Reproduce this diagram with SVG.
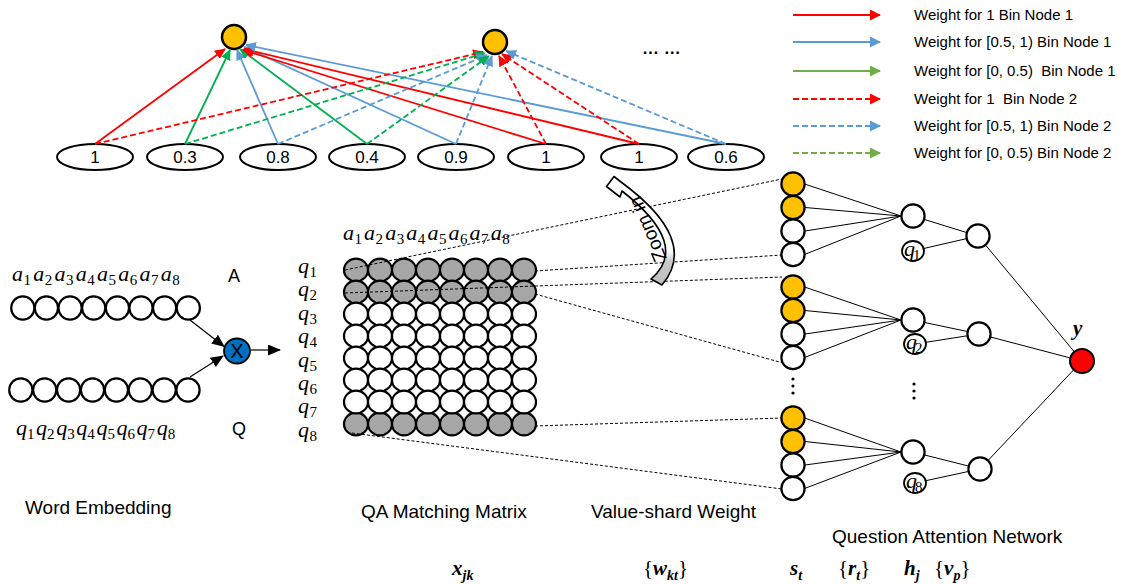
<svg xmlns="http://www.w3.org/2000/svg" width="1133" height="584" viewBox="0 0 1133 584">
<defs>
<style>
text{font-family:"Liberation Sans",Arial,sans-serif;fill:#000}
.t17{font-size:17px}
.lgt{font-size:15px;white-space:pre}
.cap{font-size:19px}
.m{font-family:"Liberation Serif","DejaVu Serif",serif;font-style:italic;font-size:22px}
.ms{font-style:normal;font-size:15px}
.mb{font-family:"Liberation Serif","DejaVu Serif",serif;font-style:italic;font-weight:bold;font-size:21px}
.up{font-style:normal;font-weight:normal}
.sb{font-size:14px}
.ell{fill:#fff;stroke:#000;stroke-width:2}
.cir{fill:#fff;stroke:#000;stroke-width:2.2}
.gray{fill:#A6A6A6}
.yel{fill:#FFC000}
.ln{fill:none;stroke-width:1.8}
.red{stroke:#FF0000}
.blu{stroke:#5B9BD5}
.grn{stroke:#00B050}
.lgr{stroke:#70AD47}
.dsh{stroke-dasharray:6 3}
.thin{fill:none;stroke:#000;stroke-width:1}
.dot{fill:none;stroke:#000;stroke-width:1;stroke-dasharray:3 2}
.blk{fill:none;stroke:#000;stroke-width:1.2}
</style>
<ellipse id="mc" cx="0" cy="0" rx="12" ry="11.4"/>
<circle id="rc" cx="0" cy="0" r="11.6"/>
<linearGradient id="zg" gradientUnits="userSpaceOnUse" x1="0" y1="182" x2="0" y2="286">
<stop offset="0" stop-color="#fff"/><stop offset="0.66" stop-color="#fff"/><stop offset="0.76" stop-color="#CACACA"/><stop offset="1" stop-color="#BDBDBD"/>
</linearGradient>
<marker id="aR" markerUnits="userSpaceOnUse" markerWidth="11" markerHeight="10" viewBox="0 0 11 10" refX="10" refY="5" orient="auto"><path d="M0,0L11,5L0,10z" fill="#FF0000"/></marker>
<marker id="aB" markerUnits="userSpaceOnUse" markerWidth="11" markerHeight="10" viewBox="0 0 11 10" refX="10" refY="5" orient="auto"><path d="M0,0L11,5L0,10z" fill="#5B9BD5"/></marker>
<marker id="aG" markerUnits="userSpaceOnUse" markerWidth="11" markerHeight="10" viewBox="0 0 11 10" refX="10" refY="5" orient="auto"><path d="M0,0L11,5L0,10z" fill="#00B050"/></marker>
<marker id="aLG" markerUnits="userSpaceOnUse" markerWidth="11" markerHeight="11" viewBox="0 0 11 11" refX="10" refY="5.5" orient="auto"><path d="M0,0L11,5.5L0,11z" fill="#70AD47"/></marker>
<marker id="lR" markerUnits="userSpaceOnUse" markerWidth="11" markerHeight="11" viewBox="0 0 11 11" refX="10" refY="5.5" orient="auto"><path d="M0,0L11,5.5L0,11z" fill="#FF0000"/></marker>
<marker id="lB" markerUnits="userSpaceOnUse" markerWidth="11" markerHeight="11" viewBox="0 0 11 11" refX="10" refY="5.5" orient="auto"><path d="M0,0L11,5.5L0,11z" fill="#5B9BD5"/></marker>
<marker id="aK" markerUnits="userSpaceOnUse" markerWidth="13" markerHeight="11" viewBox="0 0 13 11" refX="12" refY="5.5" orient="auto"><path d="M0,0L13,5.5L0,11z" fill="#000"/></marker>
</defs>
<rect width="1133" height="584" fill="#fff"/>

<!-- top bin nodes -->
<g id="bin-node-1"><circle cx="234" cy="37" r="12" fill="#FFC000" stroke="#000" stroke-width="2.5"/></g>
<g id="bin-node-2"><circle cx="495" cy="42" r="12" fill="#FFC000" stroke="#000" stroke-width="2.5"/></g>
<text x="642" y="54" font-size="17" font-weight="bold">… …</text>

<g id="values" class="t17" text-anchor="middle">
<g id="v1"><ellipse class="ell" cx="95" cy="157" rx="38" ry="13"/><text x="95" y="163">1</text></g>
<g id="v2"><ellipse class="ell" cx="185" cy="157" rx="38" ry="13"/><text x="185" y="163">0.3</text></g>
<g id="v3"><ellipse class="ell" cx="278" cy="157" rx="38" ry="13"/><text x="278" y="163">0.8</text></g>
<g id="v4"><ellipse class="ell" cx="367" cy="157" rx="38" ry="13"/><text x="367" y="163">0.4</text></g>
<g id="v5"><ellipse class="ell" cx="456" cy="157" rx="38" ry="13"/><text x="456" y="163">0.9</text></g>
<g id="v6"><ellipse class="ell" cx="546" cy="157" rx="38" ry="13"/><text x="546" y="163">1</text></g>
<g id="v7"><ellipse class="ell" cx="639" cy="157" rx="38" ry="13"/><text x="639" y="163">1</text></g>
<g id="v8"><ellipse class="ell" cx="726" cy="157" rx="38" ry="13"/><text x="726" y="163">0.6</text></g>
</g>

<!-- legend -->
<g id="legend">
<path class="ln red" d="M793,15H880" marker-end="url(#lR)"/>
<path class="ln blu" d="M793,42H880" marker-end="url(#lB)"/>
<path class="ln lgr" d="M793,71H880" marker-end="url(#aLG)"/>
<path class="ln red dsh" d="M793,99H880" marker-end="url(#lR)"/>
<path class="ln blu dsh" d="M793,126H880" marker-end="url(#lB)"/>
<path class="ln lgr dsh" d="M793,153H880" marker-end="url(#aLG)"/>
<text class="lgt" x="914" y="20">Weight for 1 Bin Node 1</text>
<text class="lgt" x="914" y="47">Weight for [0.5, 1) Bin Node 1</text>
<text class="lgt" x="914" y="76" xml:space="preserve">Weight for [0, 0.5)  Bin Node 1</text>
<text class="lgt" x="914" y="104" xml:space="preserve">Weight for 1  Bin Node 2</text>
<text class="lgt" x="914" y="131">Weight for [0.5, 1) Bin Node 2</text>
<text class="lgt" x="914" y="158">Weight for [0, 0.5) Bin Node 2</text>
</g>

<!-- word embedding -->
<g id="a-embedding">
<use href="#rc" class="cir" x="22.8" y="308"/><use href="#rc" class="cir" x="46.4" y="308"/><use href="#rc" class="cir" x="70.1" y="308"/><use href="#rc" class="cir" x="93.7" y="308"/>
<use href="#rc" class="cir" x="117.4" y="308"/><use href="#rc" class="cir" x="141" y="308"/><use href="#rc" class="cir" x="164.6" y="308"/><use href="#rc" class="cir" x="188.3" y="308"/>
<text class="m"><tspan x="12" y="281">a</tspan><tspan class="ms" x="23.5" y="285">1</tspan><tspan x="33.25" y="281">a</tspan><tspan class="ms" x="44.75" y="285">2</tspan><tspan x="54.5" y="281">a</tspan><tspan class="ms" x="66" y="285">3</tspan><tspan x="75.75" y="281">a</tspan><tspan class="ms" x="87.25" y="285">4</tspan><tspan x="97" y="281">a</tspan><tspan class="ms" x="108.5" y="285">5</tspan><tspan x="118.25" y="281">a</tspan><tspan class="ms" x="129.75" y="285">6</tspan><tspan x="139.5" y="281">a</tspan><tspan class="ms" x="151" y="285">7</tspan><tspan x="160.75" y="281">a</tspan><tspan class="ms" x="172.25" y="285">8</tspan></text>
<text x="228" y="282" font-size="18">A</text>
</g>
<g id="q-embedding">
<use href="#rc" class="cir" x="20.8" y="390"/><use href="#rc" class="cir" x="44.7" y="390"/><use href="#rc" class="cir" x="68.6" y="390"/><use href="#rc" class="cir" x="92.5" y="390"/>
<use href="#rc" class="cir" x="116.4" y="390"/><use href="#rc" class="cir" x="140.3" y="390"/><use href="#rc" class="cir" x="164.2" y="390"/><use href="#rc" class="cir" x="188" y="390"/>
<text class="m"><tspan x="16" y="435">q</tspan><tspan class="ms" x="27" y="439">1</tspan><tspan x="36.1" y="435">q</tspan><tspan class="ms" x="47.1" y="439">2</tspan><tspan x="56.2" y="435">q</tspan><tspan class="ms" x="67.2" y="439">3</tspan><tspan x="76.3" y="435">q</tspan><tspan class="ms" x="87.3" y="439">4</tspan><tspan x="96.4" y="435">q</tspan><tspan class="ms" x="107.4" y="439">5</tspan><tspan x="116.5" y="435">q</tspan><tspan class="ms" x="127.5" y="439">6</tspan><tspan x="136.6" y="435">q</tspan><tspan class="ms" x="147.6" y="439">7</tspan><tspan x="156.7" y="435">q</tspan><tspan class="ms" x="167.7" y="439">8</tspan></text>
<text x="232" y="435" font-size="18">Q</text>
</g>
<g id="product">
<ellipse cx="237" cy="351" rx="13" ry="12.5" fill="#0070C0" stroke="#000" stroke-width="1.8"/>
<text x="237" y="358" font-size="20" text-anchor="middle">X</text>
</g>

<!-- matrix -->
<g id="qa-matrix">
<g class="cir gray">
<use href="#mc" x="356" y="270"/><use href="#mc" x="380" y="270"/><use href="#mc" x="404" y="270"/><use href="#mc" x="428" y="270"/><use href="#mc" x="452" y="270"/><use href="#mc" x="476" y="270"/><use href="#mc" x="500" y="270"/><use href="#mc" x="524" y="270"/>
<use href="#mc" x="356" y="292"/><use href="#mc" x="380" y="292"/><use href="#mc" x="404" y="292"/><use href="#mc" x="428" y="292"/><use href="#mc" x="452" y="292"/><use href="#mc" x="476" y="292"/><use href="#mc" x="500" y="292"/><use href="#mc" x="524" y="292"/>
<use href="#mc" x="356" y="424"/><use href="#mc" x="380" y="424"/><use href="#mc" x="404" y="424"/><use href="#mc" x="428" y="424"/><use href="#mc" x="452" y="424"/><use href="#mc" x="476" y="424"/><use href="#mc" x="500" y="424"/><use href="#mc" x="524" y="424"/>
</g>
<g class="cir">
<use href="#mc" x="356" y="314"/><use href="#mc" x="380" y="314"/><use href="#mc" x="404" y="314"/><use href="#mc" x="428" y="314"/><use href="#mc" x="452" y="314"/><use href="#mc" x="476" y="314"/><use href="#mc" x="500" y="314"/><use href="#mc" x="524" y="314"/>
<use href="#mc" x="356" y="336"/><use href="#mc" x="380" y="336"/><use href="#mc" x="404" y="336"/><use href="#mc" x="428" y="336"/><use href="#mc" x="452" y="336"/><use href="#mc" x="476" y="336"/><use href="#mc" x="500" y="336"/><use href="#mc" x="524" y="336"/>
<use href="#mc" x="356" y="358"/><use href="#mc" x="380" y="358"/><use href="#mc" x="404" y="358"/><use href="#mc" x="428" y="358"/><use href="#mc" x="452" y="358"/><use href="#mc" x="476" y="358"/><use href="#mc" x="500" y="358"/><use href="#mc" x="524" y="358"/>
<use href="#mc" x="356" y="380"/><use href="#mc" x="380" y="380"/><use href="#mc" x="404" y="380"/><use href="#mc" x="428" y="380"/><use href="#mc" x="452" y="380"/><use href="#mc" x="476" y="380"/><use href="#mc" x="500" y="380"/><use href="#mc" x="524" y="380"/>
<use href="#mc" x="356" y="402"/><use href="#mc" x="380" y="402"/><use href="#mc" x="404" y="402"/><use href="#mc" x="428" y="402"/><use href="#mc" x="452" y="402"/><use href="#mc" x="476" y="402"/><use href="#mc" x="500" y="402"/><use href="#mc" x="524" y="402"/>
</g>
<text class="m"><tspan x="343" y="240">a</tspan><tspan class="ms" x="354.5" y="244">1</tspan><tspan x="364.1" y="240">a</tspan><tspan class="ms" x="375.6" y="244">2</tspan><tspan x="385.2" y="240">a</tspan><tspan class="ms" x="396.7" y="244">3</tspan><tspan x="406.3" y="240">a</tspan><tspan class="ms" x="417.8" y="244">4</tspan><tspan x="427.4" y="240">a</tspan><tspan class="ms" x="438.9" y="244">5</tspan><tspan x="448.5" y="240">a</tspan><tspan class="ms" x="460" y="244">6</tspan><tspan x="469.6" y="240">a</tspan><tspan class="ms" x="481.1" y="244">7</tspan><tspan x="490.7" y="240">a</tspan><tspan class="ms" x="502.2" y="244">8</tspan></text>
<text class="m"><tspan x="298" y="273">q</tspan><tspan class="ms" x="309.5" y="277">1</tspan><tspan x="298" y="296.4">q</tspan><tspan class="ms" x="309.5" y="300.4">2</tspan><tspan x="298" y="319.8">q</tspan><tspan class="ms" x="309.5" y="323.8">3</tspan><tspan x="298" y="343.2">q</tspan><tspan class="ms" x="309.5" y="347.2">4</tspan><tspan x="298" y="366.6">q</tspan><tspan class="ms" x="309.5" y="370.6">5</tspan><tspan x="298" y="390">q</tspan><tspan class="ms" x="309.5" y="394">6</tspan><tspan x="298" y="413.4">q</tspan><tspan class="ms" x="309.5" y="417.4">7</tspan><tspan x="298" y="436.8">q</tspan><tspan class="ms" x="309.5" y="440.8">8</tspan></text>
</g>

<!-- value-shard column -->
<g id="value-shard">
<use href="#rc" class="cir yel" x="793" y="184"/><use href="#rc" class="cir yel" x="793" y="207.5"/><use href="#rc" class="cir" x="793" y="231"/><use href="#rc" class="cir" x="793" y="254.5"/>
<use href="#rc" class="cir yel" x="793" y="287"/><use href="#rc" class="cir yel" x="793" y="310.5"/><use href="#rc" class="cir" x="793" y="334"/><use href="#rc" class="cir" x="793" y="357.5"/>
<use href="#rc" class="cir yel" x="793" y="418"/><use href="#rc" class="cir yel" x="793" y="441.5"/><use href="#rc" class="cir" x="793" y="465"/><use href="#rc" class="cir" x="793" y="488.5"/>
<circle cx="793" cy="379" r="1.6"/><circle cx="793" cy="386" r="1.6"/><circle cx="793" cy="393" r="1.6"/>
</g>

<!-- question attention network -->
<g id="attention">
<g id="h1"><use href="#rc" class="cir" x="913" y="216"/></g>
<g id="h2"><use href="#rc" class="cir" x="913" y="320"/></g>
<g id="h3"><use href="#rc" class="cir" x="913" y="452"/></g>
<g id="s1"><use href="#rc" class="cir" x="978" y="236"/></g>
<g id="s2"><use href="#rc" class="cir" x="979" y="334"/></g>
<g id="s3"><use href="#rc" class="cir" x="980" y="469"/></g>
<g id="qn1"><ellipse cx="913" cy="251" rx="11" ry="10" fill="#fff" stroke="#000" stroke-width="1.8"/><text class="m" font-size="17"><tspan x="904" y="256">q</tspan><tspan class="ms" font-size="12" x="913" y="260">1</tspan></text></g>
<g id="qn2"><ellipse cx="915" cy="344" rx="11" ry="10" fill="#fff" stroke="#000" stroke-width="1.8"/><text class="m" font-size="17"><tspan x="906" y="349">q</tspan><tspan class="ms" font-size="12" x="915" y="353">2</tspan></text></g>
<g id="qn8"><ellipse cx="915" cy="483" rx="11" ry="10" fill="#fff" stroke="#000" stroke-width="1.8"/><text class="m" font-size="17"><tspan x="906" y="488">q</tspan><tspan class="ms" font-size="12" x="915" y="492">8</tspan></text></g>
<circle cx="914" cy="384" r="1.6"/><circle cx="914" cy="391" r="1.6"/><circle cx="914" cy="398" r="1.6"/>
<g id="out"><circle cx="1082" cy="361" r="12" fill="#FF0000" stroke="#000" stroke-width="2"/><text class="mb" x="1073" y="335">y</text></g>
</g>

<!-- connectors -->
<g id="connectors">
<path class="ln red" marker-end="url(#aR)" d="M95,144L225,49"/>
<path class="ln grn" marker-end="url(#aG)" d="M185,144L230,50"/>
<path class="ln blu" marker-end="url(#aB)" d="M278,144L237,50"/>
<path class="ln grn" marker-end="url(#aG)" d="M367,144L240,49"/>
<path class="ln blu" marker-end="url(#aB)" d="M456,144L244,47"/>
<path class="ln red" marker-end="url(#aR)" d="M546,144L243,50"/>
<path class="ln red" marker-end="url(#aR)" d="M639,144L244,49"/>
<path class="ln blu" marker-end="url(#aB)" d="M726,144L246,45"/>
<path class="ln red dsh" marker-end="url(#aR)" d="M95,144L483,52"/>
<path class="ln grn dsh" marker-end="url(#aG)" d="M185,144L485,53"/>
<path class="ln blu dsh" marker-end="url(#aB)" d="M278,144L487,55"/>
<path class="ln grn dsh" marker-end="url(#aG)" d="M367,144L489,56"/>
<path class="ln blu dsh" marker-end="url(#aB)" d="M456,144L492,56"/>
<path class="ln red dsh" marker-end="url(#aR)" d="M546,144L499,56"/>
<path class="ln red dsh" marker-end="url(#aR)" d="M639,144L502,54"/>
<path class="ln blu dsh" marker-end="url(#aB)" d="M726,144L506,51"/>

<path class="blk" marker-end="url(#aK)" d="M190,320L224,346.5"/>
<path class="blk" marker-end="url(#aK)" d="M190,377L223,356"/>
<path class="blk" marker-end="url(#aK)" d="M251,350L280,350"/>

<path class="dot" d="M345,270L782,179"/>
<path class="dot" d="M535,271L782,255"/>
<path class="dot" d="M345,293L782,277"/>
<path class="dot" d="M535,294L783,363"/>
<path class="dot" d="M535,426L782,418"/>
<path class="dot" d="M352,433L782,489"/>

<path class="thin" d="M804.5,184L901,216M805,207.5L901,216M805,231L901,216M804.5,254.5L901,216"/>
<path class="thin" d="M804.5,287L901,320M805,310.5L901,320M805,334L901,320M804.5,357.5L901,320"/>
<path class="thin" d="M804.5,418L901,452M805,441.5L901,452M805,465L901,452M804.5,488.5L901,452"/>
<path class="thin" d="M924.5,219.5L966.5,232.5M923.7,248.5L966.3,238.7"/>
<path class="thin" d="M924.7,322.5L967.3,331.5M925.9,342.3L967.1,335.8"/>
<path class="thin" d="M924.6,455L968.4,466M925.8,480.7L968.3,471.5"/>
<path class="thin" d="M985.7,245.2L1074.3,351.8M990.6,337L1070.4,358M988.2,460.3L1073.8,369.7"/>
</g>

<!-- zoom in arrow -->
<g id="zoom-in">
<path d="M606.5,186.5L614,176.5L621,182Q700,240 662,285L651,279Q691,245 622,191L620,197Z" fill="url(#zg)" stroke="#000" stroke-width="1.6" stroke-linejoin="round"/>
<text transform="translate(648,229) rotate(-113)" x="0" y="6" font-size="19" text-anchor="middle">Zoom in</text>
</g>

<!-- captions -->
<g id="captions" class="cap">
<text x="25" y="514">Word Embedding</text>
<text x="361" y="518">QA Matching Matrix</text>
<text x="591" y="518">Value-shard Weight</text>
<text x="832" y="543">Question Attention Network</text>
</g>
<g id="symbols">
<text class="mb" x="452" y="575">x<tspan class="sb" dy="5">jk</tspan></text>
<text class="mb" x="643" y="575"><tspan class="up">{</tspan>w<tspan class="sb" dy="5">kt</tspan><tspan class="up" dy="-5">}</tspan></text>
<text class="mb" x="790" y="575">s<tspan class="sb" dy="5">t</tspan></text>
<text class="mb" x="838" y="575"><tspan class="up">{</tspan>r<tspan class="sb" dy="5">t</tspan><tspan class="up" dy="-5">}</tspan></text>
<text class="mb" x="904" y="575">h<tspan class="sb" dy="5">j</tspan></text>
<text class="mb" x="934" y="575"><tspan class="up">{</tspan>v<tspan class="sb" dy="5">p</tspan><tspan class="up" dy="-5">}</tspan></text>
</g>
</svg>
